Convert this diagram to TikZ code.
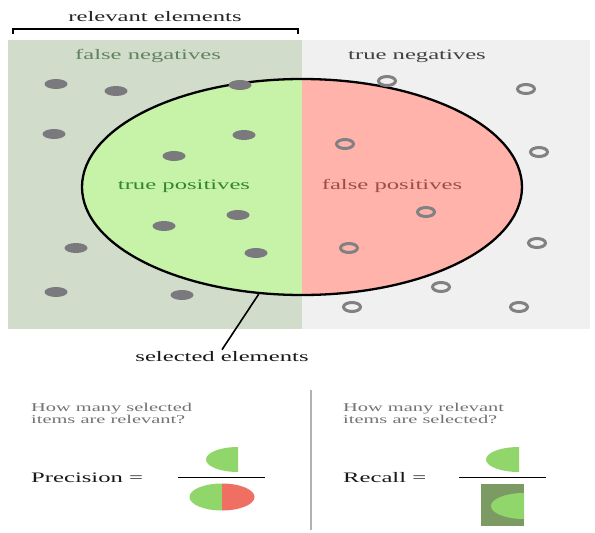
\documentclass[tikz,border=0pt]{standalone}
\usepackage{fontspec}
\setmainfont{Liberation Serif}[FakeStretch=1.7]
\usepackage{tikz}
\usetikzlibrary{positioning,shapes.geometric}
\usepackage{xcolor}
\definecolor{sage}{HTML}{D2DCCB}
\definecolor{pale}{HTML}{F0F0F0}
\definecolor{tpgreen}{HTML}{C6F3A8}
\definecolor{fpred}{HTML}{FFB3AA}
\definecolor{dotgray}{HTML}{7A7A7E}
\definecolor{pgreen}{HTML}{90D66A}
\definecolor{pred}{HTML}{EF7063}
\definecolor{olive}{HTML}{7C9A63}

\begin{document}
\begin{tikzpicture}[
    x=1pt,y=1pt,
    lbl/.style={inner sep=0pt,font=\fontsize{14.5}{16}\selectfont,text=#1},
    small/.style={inner sep=0pt,align=left,font=\fontsize{12}{10.5}\selectfont,text=black!55},
    dot/.style={fill=dotgray},
    ring/.style={draw=dotgray!95,line width=3pt}
]
\useasboundingbox[fill=white] (0,0) rectangle (595,-533);

% panels
\fill[sage] (8,-40) rectangle (302,-329);
\fill[pale] (302,-40) rectangle (590,-329);

% selected set, two halves
\begin{scope}
  \clip (8,-40) rectangle (302,-329);
  \fill[tpgreen] (302,-187) ellipse [x radius=220,y radius=108];
\end{scope}
\begin{scope}
  \clip (302,-40) rectangle (590,-329);
  \fill[fpred] (302,-187) ellipse [x radius=220,y radius=108];
\end{scope}
\node[draw,ellipse,line width=2.3pt,minimum width=440,minimum height=216,inner sep=0pt] (sel) at (302,-187) {};

% relevant items
\foreach \px/\py in {56/84,116/91,240/85,54/134,244/135,174/156,164/226,238/215,76/248,256/253,56/292,182/295}
  \fill[dot] (\px,-\py) ellipse [x radius=11.5,y radius=5];
% other items
\foreach \px/\py in {387/81,526/89,345/144,539/152,426/212,349/248,537/243,441/287,352/307,519/307}
  \draw[ring] (\px,-\py) ellipse [x radius=8.5,y radius=4.5];

\node[lbl=black!85] (relevant) at (155,-17) {relevant elements};
\draw[line width=2pt] (13,-34) -- (13,-29) -- (298,-29) -- (298,-34);
\node[lbl={black!45!green!25!gray}] (fn) at (148,-56) {false negatives};
\node[lbl=black!75] (tn) at (417,-56) {true negatives};
\node[lbl={green!40!black!80}] (tp) at (184,-186) {true positives};
\node[lbl={red!45!black!70}] (fp) at (392,-186) {false positives};
\node[lbl=black!90] (selected) at (222,-357) {selected elements};
\draw[line width=1.6pt] (sel.248) -- ([yshift=2pt]selected.north);

% precision
\node[small,anchor=west] (qprec) at (31,-413) {How many selected\\items are relevant?};
\node[lbl=black!90,anchor=west] (prec) at (31,-478) {Precision =};
\fill[pgreen] (238,-447) arc[start angle=90,end angle=270,x radius=32,y radius=12.5] -- cycle;
\draw[line width=0.8pt] (178,-477) -- (265,-477);
\fill[pgreen] (222,-483.5) arc[start angle=90,end angle=270,x radius=32.5,y radius=13.5] -- cycle;
\fill[pred] (222,-483.5) arc[start angle=90,end angle=-90,x radius=32.5,y radius=13.5] -- cycle;

\draw[black!30,line width=2.5pt] (311,-390) -- (311,-530);

% recall
\node[small,anchor=west] (qrec) at (343,-413) {How many relevant\\items are selected?};
\node[lbl=black!90,anchor=west] (rec) at (343,-478) {Recall =};
\fill[pgreen] (519,-447) arc[start angle=90,end angle=270,x radius=33,y radius=12.5] -- cycle;
\draw[line width=0.8pt] (459,-477) -- (546,-477);
\fill[olive] (481,-484) rectangle (524,-526);
\fill[pgreen] (524,-493) arc[start angle=90,end angle=270,x radius=33,y radius=13] -- cycle;
\end{tikzpicture}
\end{document}
